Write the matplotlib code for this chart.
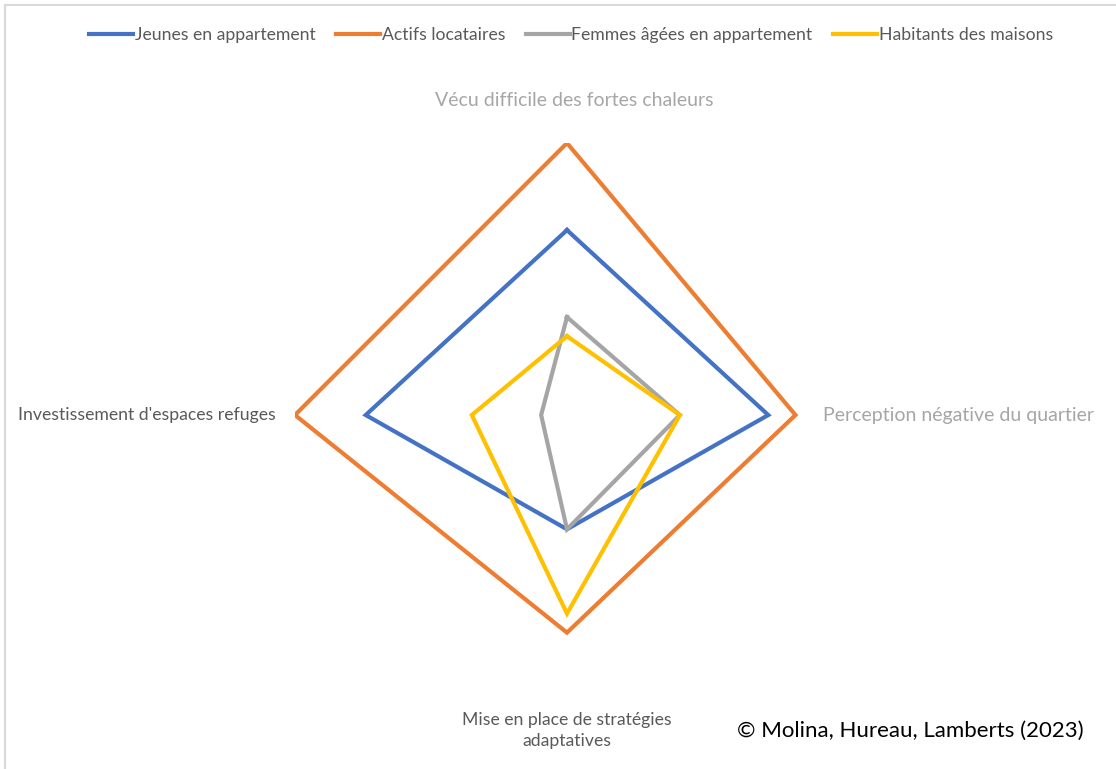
import numpy as np
import matplotlib
matplotlib.use('Agg')
import matplotlib.pyplot as plt
from matplotlib.lines import Line2D
from matplotlib.transforms import offset_copy

plt.rcParams['font.family'] = ['Lato', 'DejaVu Sans']

# axes of the radar, clockwise from the top
categories = ['Vécu difficile des fortes chaleurs',
              'Perception négative du quartier',
              'Mise en place de stratégies\nadaptatives',
              "Investissement d'espaces refuges"]

series_names = ['Jeunes en appartement', 'Actifs locataires',
                'Femmes âgées en appartement', 'Habitants des maisons']
jeunes = [0.68, 0.74, 0.42, 0.74]
actifs = [1.00, 0.84, 0.80, 1.00]
femmes = [0.36, 0.415, 0.42, 0.095]
maisons = [0.29, 0.415, 0.73, 0.35]
colors = ['#4472C4', '#ED7D31', '#A5A5A5', '#FFC000']

fig = plt.figure(figsize=(11.16, 7.69), dpi=100)
ax = fig.add_axes([0.2643, 0.1066, 0.4875, 0.7074], projection='polar')
ax.set_theta_zero_location('N')
ax.set_theta_direction(-1)

theta = np.linspace(0, 2 * np.pi, len(categories), endpoint=False)
handles = []
for name, vals, c in zip(series_names, [jeunes, actifs, femmes, maisons], colors):
    t = np.append(theta, theta[0])
    v = np.append(vals, vals[0])
    h, = ax.plot(t, v, color=c, lw=3, solid_joinstyle='miter', label=name)
    handles.append(h)

ax.set_ylim(0, 1)
ax.set_xticks([])
ax.set_yticks([])
ax.grid(False)
ax.spines['polar'].set_visible(False)
ax.patch.set_alpha(0)

# category labels
light = '#A6A6A6'
dark = '#595959'
shift = offset_copy(ax.transData, fig=fig, x=5, y=0, units='points')
ax.text(theta[0], 1.155, categories[0], ha='center', va='center', fontsize=14, color=light,
        transform=shift, clip_on=False)
ax.text(theta[1], 0.94, categories[1], ha='left', va='center', fontsize=14, color=light, clip_on=False)
ax.text(theta[2], 1.16, categories[2], ha='center', va='center', fontsize=12.7, color=dark,
        linespacing=1.4, clip_on=False)
ax.text(theta[3], 1.07, categories[3], ha='right', va='center', fontsize=12.7, color=dark, clip_on=False)

leg = fig.legend(handles=handles, loc='center', bbox_to_anchor=(571 / 1116, 1 - 35 / 769), ncol=4,
                 frameon=False, fontsize=12.7, handlelength=2.5, handletextpad=0.1,
                 columnspacing=1.15)
for t in leg.get_texts():
    t.set_color(dark)

fig.text(1084 / 1116, 1 - 731 / 769, '© Molina, Hureau, Lamberts (2023)', ha='right', va='center',
         fontsize=16, color='black')

# light border of the original frame
fig.add_artist(Line2D([5 / 1116, 1], [1 - 5 / 769, 1 - 5 / 769], color='#D9D9D9', lw=1.5))
fig.add_artist(Line2D([5 / 1116, 5 / 1116], [0, 1 - 5 / 769], color='#D9D9D9', lw=1.5))

fig.savefig('out.png', dpi=100)
